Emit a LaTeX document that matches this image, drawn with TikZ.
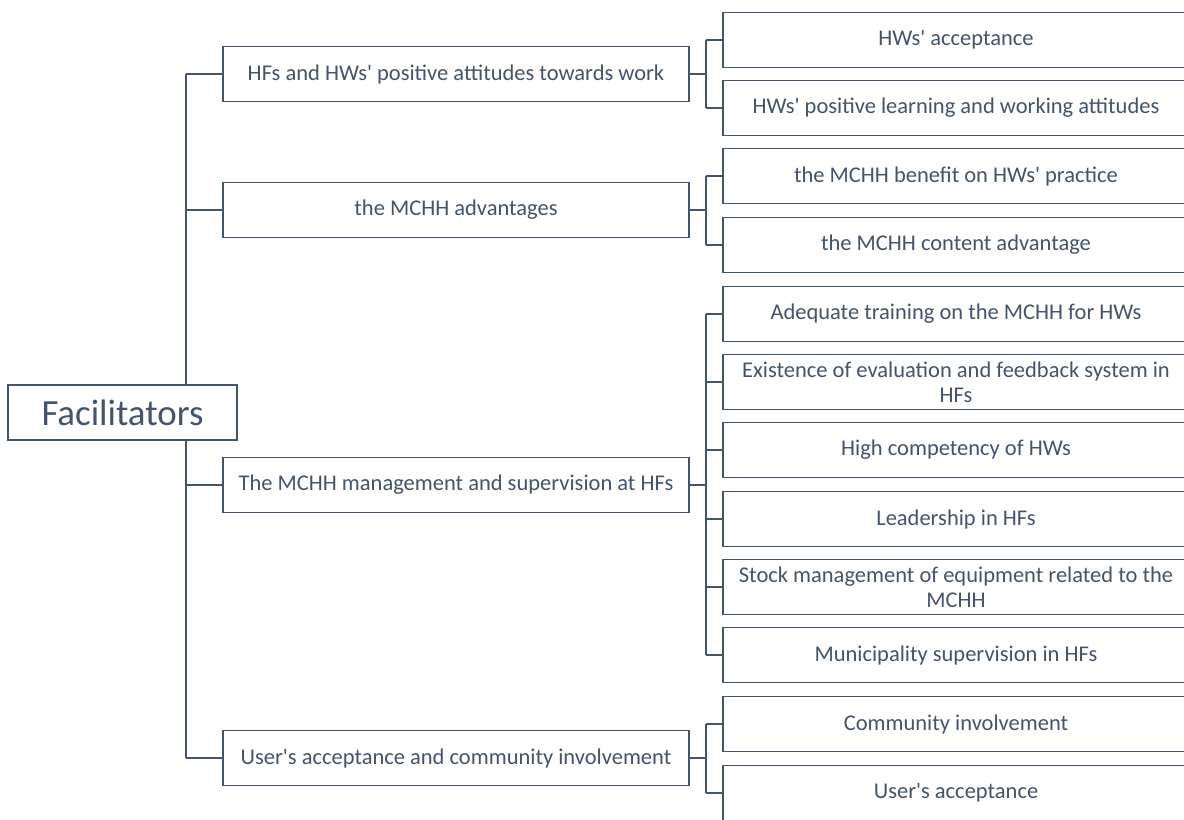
\documentclass[tikz,border=0pt]{standalone}
\usepackage{fontspec}
\setmainfont{Carlito}[Ligatures=TeXOff]
\usetikzlibrary{positioning}
\definecolor{slate}{HTML}{44546A}

\begin{document}
\begin{tikzpicture}[x=0.02cm, y=-0.02cm,
    box/.style={rectangle, draw=slate, fill=white, line width=0.75pt, text=slate,
        minimum width=9.32cm, minimum height=1.09cm, text width=9.0cm, align=flush center,
        inner sep=0pt, font=\fontsize{12.8}{14.2}\selectfont},
    root/.style={box, minimum width=4.58cm, text width=4.4cm, minimum height=1.1cm,
        font=\fontsize{21}{25}\selectfont},
    link/.style={draw=slate, line width=0.75pt}
]
\clip (0,0) rectangle (1184,819);
\fill[white] (0,0) rectangle (1184,819);

\coordinate (trunk) at (186,0);
\coordinate (bus) at (706,0);

% main branches
\node[box] (att) at (456,74) {HFs and HWs' positive attitudes towards work};
\node[box] (adv) at (456,210) {the MCHH advantages};
\node[box] (mgt) at (456,485) {The MCHH management and supervision at HFs};
\node[box] (usr) at (456,758) {User's acceptance and community involvement};

% sub branches
\node[box] (att1) at (956,40) {HWs' acceptance};
\node[box] (att2) at (956,108) {HWs' positive learning and working attitudes};
\node[box] (adv1) at (956,176) {the MCHH benefit on HWs' practice};
\node[box] (adv2) at (956,245) {the MCHH content advantage};
\node[box] (mgt1) at (956,314) {Adequate training on the MCHH for HWs};
\node[box] (mgt2) at (956,382) {Existence of evaluation and feedback system in HFs};
\node[box] (mgt3) at (956,450) {High competency of HWs};
\node[box] (mgt4) at (956,519) {Leadership in HFs};
\node[box] (mgt5) at (956,587) {Stock management of equipment related to the MCHH};
\node[box] (mgt6) at (956,655) {Municipality supervision in HFs};
\node[box] (usr1) at (956,724) {Community involvement};
\node[box] (usr2) at (956,793) {User's acceptance};

% root and trunk
\node[root] (fac) at (122.5,412.5) {Facilitators};
\draw[link] (att.west -| trunk) -- (fac.north -| trunk);
\draw[link] (fac.south -| trunk) -- (usr.west -| trunk);
\draw[link] (att.west -| trunk) -- (att.west);
\draw[link] (adv.west -| trunk) -- (adv.west);
\draw[link] (mgt.west -| trunk) -- (mgt.west);
\draw[link] (usr.west -| trunk) -- (usr.west);

% second level links
\draw[link] (att.east) -- (att.east -| bus);
\draw[link] (att1.west -| bus) -- (att2.west -| bus);
\draw[link] (adv.east) -- (adv.east -| bus);
\draw[link] (adv1.west -| bus) -- (adv2.west -| bus);
\draw[link] (mgt.east) -- (mgt.east -| bus);
\draw[link] (mgt1.west -| bus) -- (mgt6.west -| bus);
\draw[link] (usr.east) -- (usr.east -| bus);
\draw[link] (usr1.west -| bus) -- (usr2.west -| bus);
\foreach \n in {att1,att2,adv1,adv2,mgt1,mgt2,mgt3,mgt4,mgt5,mgt6,usr1,usr2}
    \draw[link] (\n.west -| bus) -- (\n.west);

\end{tikzpicture}
\end{document}
